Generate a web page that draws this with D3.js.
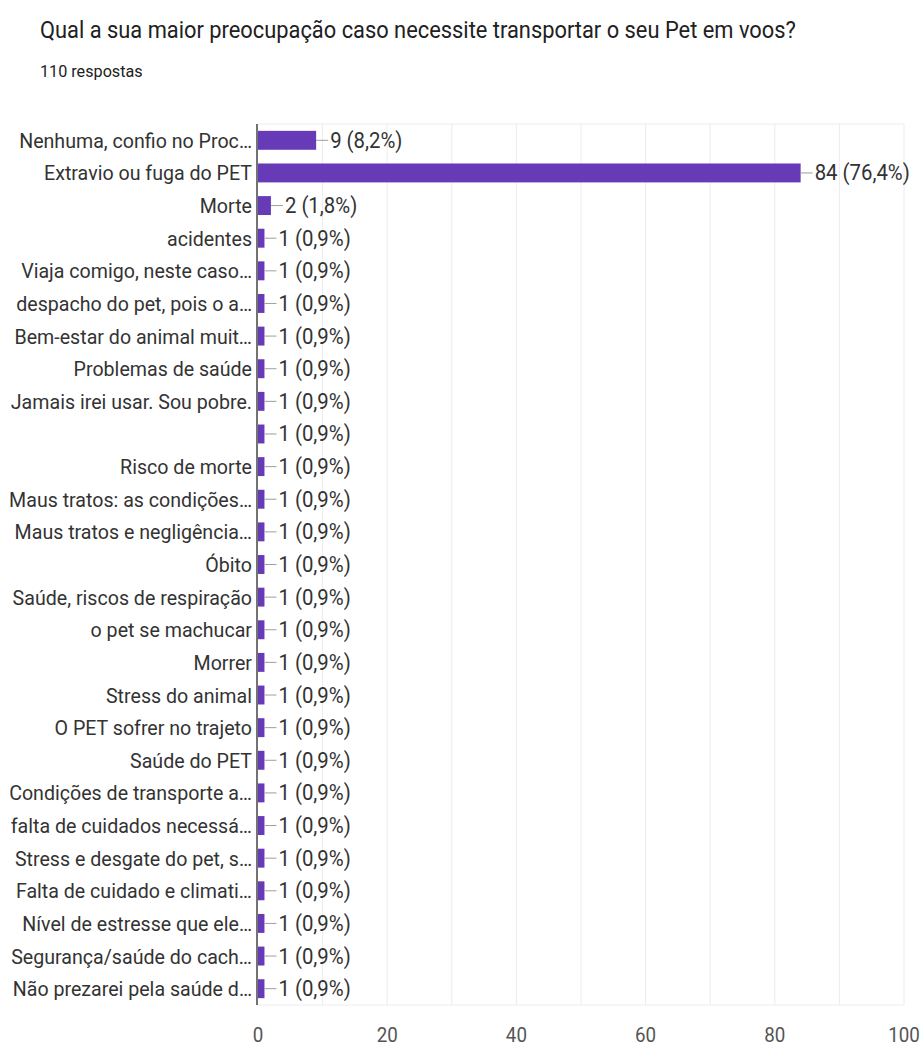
<!DOCTYPE html>
<html><head><meta charset="utf-8">
<script src="https://cdn.jsdelivr.net/npm/d3@7"></script>
<style>
html,body{margin:0;padding:0;background:#fff;}
svg{display:block;font-family:Roboto,"Noto Sans",sans-serif;}
</style></head>
<body>
<svg id="chart" width="923" height="1048"></svg>
<script>
const title = "Qual a sua maior preocupação caso necessite transportar o seu Pet em voos?";
const subtitle = "110 respostas";
const categories = [
  "Nenhuma, confio no Proc…",
  "Extravio ou fuga do PET",
  "Morte",
  "acidentes",
  "Viaja comigo, neste caso…",
  "despacho do pet, pois o a…",
  "Bem-estar do animal muit…",
  "Problemas de saúde",
  "Jamais irei usar. Sou pobre.",
  "",
  "Risco de morte",
  "Maus tratos: as condições…",
  "Maus tratos e negligência…",
  "Óbito",
  "Saúde, riscos de respiração",
  "o pet se machucar",
  "Morrer",
  "Stress do animal",
  "O PET sofrer no trajeto",
  "Saúde do PET",
  "Condições de transporte a…",
  "falta de cuidados necessá…",
  "Stress e desgate do pet, s…",
  "Falta de cuidado e climati…",
  "Nível de estresse que ele…",
  "Segurança/saúde do cach…",
  "Não prezarei pela saúde d…"
];
const counts = [9,84,2,1,1,1,1,1,1,1,1,1,1,1,1,1,1,1,1,1,1,1,1,1,1,1,1];
const percents = ["8,2%","76,4%","1,8%","0,9%","0,9%","0,9%","0,9%","0,9%","0,9%","0,9%","0,9%","0,9%","0,9%","0,9%","0,9%","0,9%","0,9%","0,9%","0,9%","0,9%","0,9%","0,9%","0,9%","0,9%","0,9%","0,9%","0,9%"];
const xTicks = [0,20,40,60,80,100];
const xGrid = [10,20,30,40,50,60,70,80,90,100];

const svg = d3.select("#chart");
const SX = 0.93; // horizontal text compression

function txt(g, px, py, s, anchor, size, color){
  return g.append("text")
    .attr("transform", `translate(${px},${py}) scale(${SX},1)`)
    .attr("text-anchor", anchor)
    .attr("font-size", size)
    .attr("fill", color)
    .text(s);
}

txt(svg, 40, 38, title, "start", 23.5, "#212121");
txt(svg, 40, 77, subtitle, "start", 17.4, "#212121");

const pLeft = 258, pRight = 904, pTop = 124, pBottom = 1005;
const ids = categories.map((d,i)=>i);
const x = d3.scaleLinear().domain([0,100]).range([pLeft,pRight]);
const y = d3.scaleBand().domain(ids).range([pTop,pBottom]).paddingInner(0.42).paddingOuter(0.21);

// grid
const grid = svg.append("g");
grid.selectAll("line.v").data(xGrid).join("line")
  .attr("x1", d=>x(d)).attr("x2", d=>x(d)).attr("y1", pTop).attr("y2", pBottom)
  .attr("stroke", "#ececec").attr("stroke-width", 1);
grid.append("line").attr("x1", pLeft).attr("x2", pRight).attr("y1", pTop).attr("y2", pTop).attr("stroke","#ececec");
grid.append("line").attr("x1", pLeft).attr("x2", pRight).attr("y1", pBottom).attr("y2", pBottom).attr("stroke","#ececec");

// bars
svg.append("g").selectAll("rect").data(counts).join("rect")
  .attr("x", x(0)).attr("y", (d,i)=>y(i))
  .attr("width", d=>x(d)-x(0)).attr("height", y.bandwidth())
  .attr("fill", "#673ab7");

// connector + value labels
const lab = svg.append("g");
counts.forEach((d,i)=>{
  const cy = y(i) + y.bandwidth()/2;
  lab.append("line").attr("x1", x(d)).attr("x2", x(d)+12).attr("y1", cy).attr("y2", cy)
    .attr("stroke", "#9e9e9e").attr("stroke-width", 1);
  txt(lab, x(d)+14, cy+7.5, `${d} (${percents[i]})`, "start", 21.9, "#333333");
});

// category labels
const cl = svg.append("g");
categories.forEach((c,i)=>{
  const cy = y(i) + y.bandwidth()/2;
  txt(cl, 252, cy+7.5, c, "end", 21.1, "#333333");
});

// axis line
svg.append("line").attr("x1", pLeft-1).attr("x2", pLeft-1).attr("y1", pTop).attr("y2", pBottom)
  .attr("stroke", "#444").attr("stroke-width", 1.5);

// x tick labels
const tk = svg.append("g");
xTicks.forEach(t=>{
  txt(tk, x(t), 1042, String(t), "middle", 20.2, "#555555");
});
</script>
</body></html>
